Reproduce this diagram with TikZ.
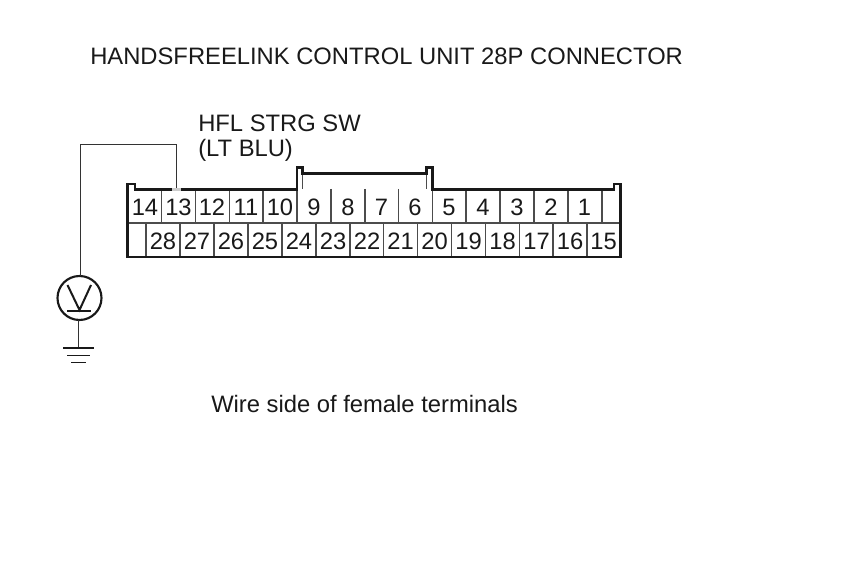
\documentclass[tikz,border=0pt]{standalone}
\usepackage{fontspec}
\setmainfont{Liberation Sans}
\tikzset{
  x=0.75pt,y=-0.75pt,
  lbl/.style={inner sep=0pt,anchor=base west,font=\fontsize{17.83}{20}\selectfont,text=black!90},
  num/.style={inner sep=0pt,anchor=base,font=\fontsize{17.8}{20}\selectfont,text=black!90},
  outline/.style={draw=black!90,line width=2.2pt,line join=miter},
  cell/.style={draw=black!70,line width=0.85pt},
  wire/.style={draw=black!80,line width=0.8pt},
  meter/.style={circle,draw=black!90,line width=1.6pt,minimum size=33pt,inner sep=0pt},
}
\begin{document}
\begin{tikzpicture}
\useasboundingbox[fill=white] (0,0) rectangle (860,580);
% cell dividers
\foreach \x in {161.5,195.5,229.5,263,297,331,365,398.5,432.5,466,500,534,568,602}
  \draw[cell] (\x,189) -- (\x,223);
\foreach \x in {146,180,214,248,282,316,350,383.5,417.5,451.5,485.5,519.5,553,587}
  \draw[cell] (\x,223) -- (\x,257);
\draw[cell] (127,223) -- (621,223);
\draw[cell] (302.5,173) -- (302.5,189);
\draw[cell] (426.5,173) -- (426.5,189);
% connector outline
\draw[outline] (127.5,257) -- (127.5,184) -- (135,184) -- (135,189.5) -- (297,189.5) -- (297,167.5) -- (302.5,167.5) -- (302.5,173.5) -- (426.5,173.5) -- (426.5,167.5) -- (432.5,167.5) -- (432.5,189.5) -- (614,189.5) -- (614,184) -- (620.5,184) -- (620.5,257) -- cycle;
% top row labels
\foreach \x/\t in {145/14,178.5/13,212/12,246/11,280/10,314/9,348/8,381.5/7,415/6,449/5,483/4,517/3,551/2,584.5/1}
  \node[num] (t\t) at (\x,215.5) {\t};
\foreach \x/\t in {163/28,197/27,231/26,265/25,299/24,333/23,367/22,400.5/21,434.5/20,468.5/19,502.5/18,536.5/17,570/16,603.5/15}
  \node[num] (t\t) at (\x,249.5) {\t};
% titles
\node[lbl] (title) at (90,64.5) {HANDSFREELINK CONTROL UNIT 28P CONNECTOR};
\node[lbl] (hfl) at (198,132) {HFL STRG SW};
\node[lbl] (blu) at (198,157) {(LT BLU)};
\node[lbl] (side) at (211,412.5) {Wire side of female terminals};
% meter and wire
\coordinate (pin) at (176.5,188);
\node[meter] (v) at (79.5,298) {};
\draw[wire] (pin) -- (176.5,144.5) -- (80.5,144.5) -- (80.5,276);
\draw[black!20,line width=2.2pt] (172,189.5) -- (181,189.5);
\draw[black!90,line width=1.5pt] (67.5,285) -- (79.5,310) -- (91,285);
\draw[black!90,line width=2pt] (67,311) -- (91,311);
% ground
\coordinate (gnd) at (78.5,348);
\draw[wire] (v) ++(-1,22) -- (gnd);
\draw[black!90,line width=2.2pt] (63,348) -- (94,348);
\draw[black!90,line width=1.4pt] (67,355.5) -- (90,355.5);
\draw[black!90,line width=1.4pt] (71,362.5) -- (86,362.5);
\end{tikzpicture}
\end{document}
